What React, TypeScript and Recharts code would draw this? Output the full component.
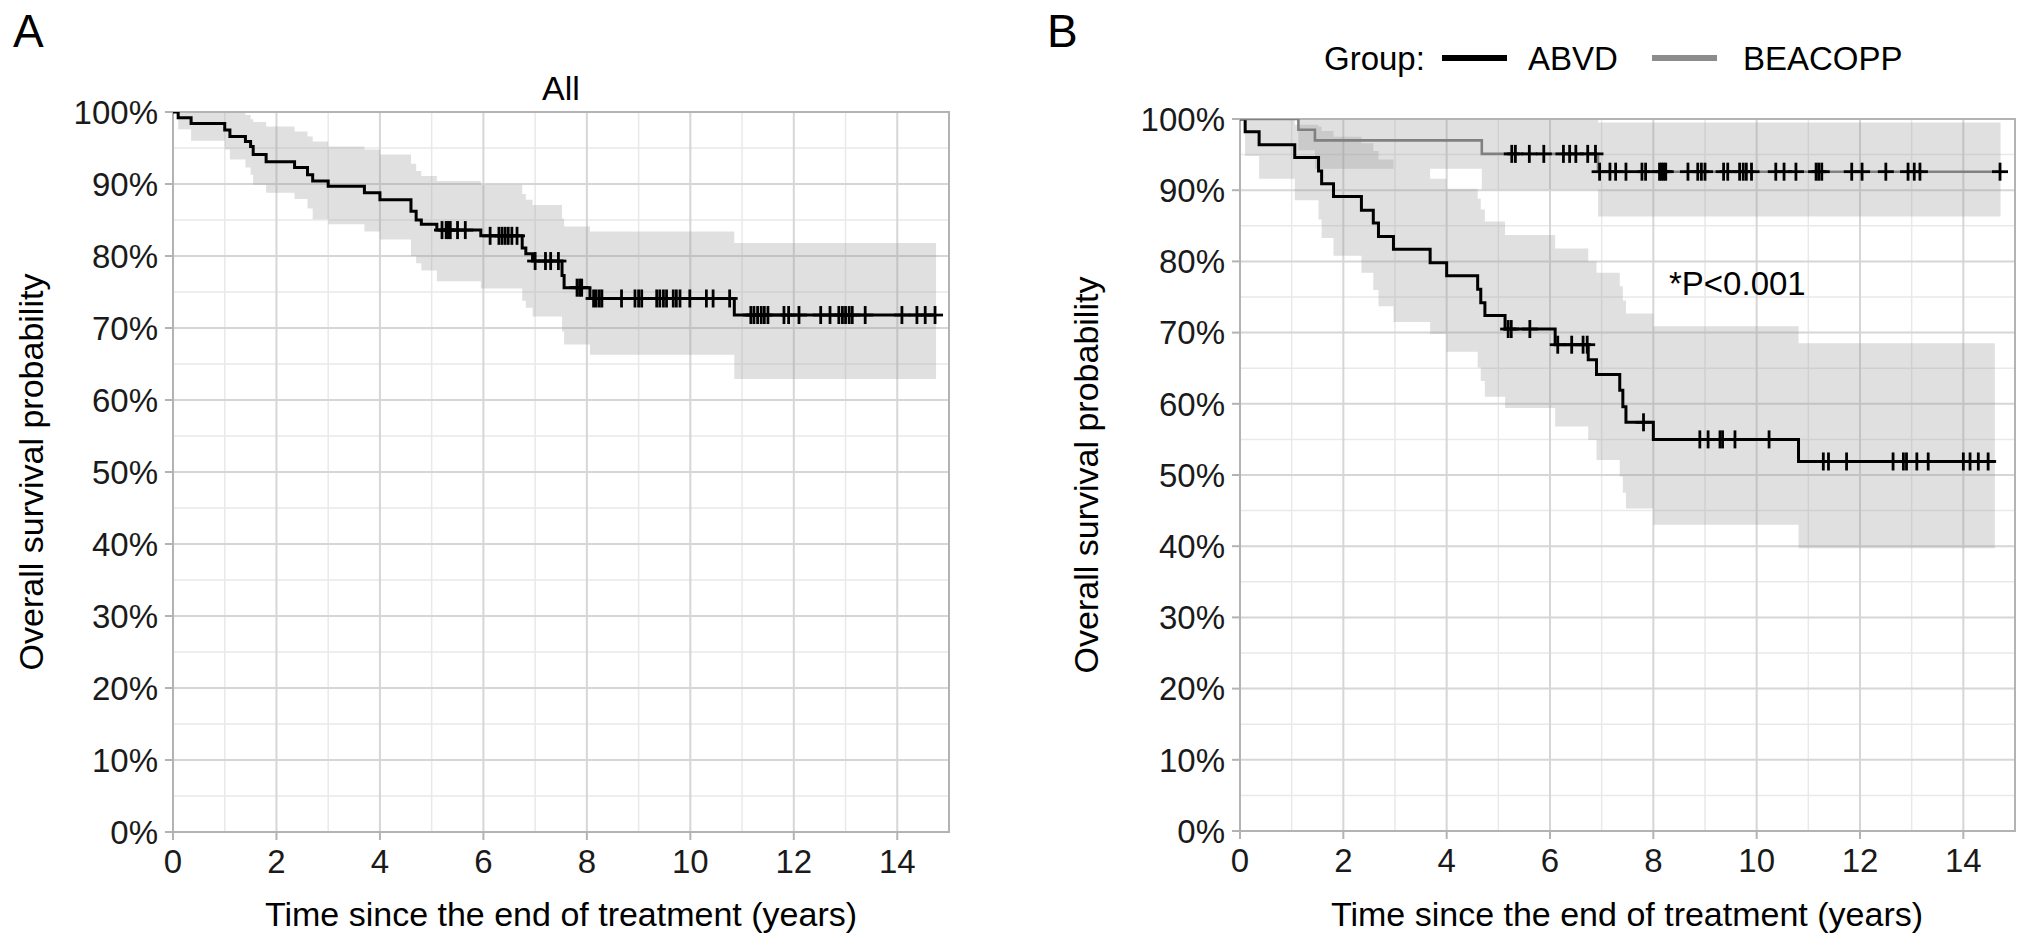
import React from 'react';
import {
  ComposedChart,
  XAxis,
  YAxis,
  CartesianGrid,
  Area,
  Line,
  Scatter,
  ReferenceArea,
} from 'recharts';

const FONT = '"Liberation Sans", Arial, Helvetica, sans-serif';

// axis ticks
const xMajor = [0, 2, 4, 6, 8, 10, 12, 14];
const xMinor = [1, 3, 5, 7, 9, 11, 13];
const yMajor = [0, 10, 20, 30, 40, 50, 60, 70, 80, 90, 100];
const yMinor = [5, 15, 25, 35, 45, 55, 65, 75, 85, 95];

// Panel A - all patients
const allTimes = [0, 0.1, 0.35, 1.0, 1.1, 1.4, 1.5, 1.55, 1.8, 2.35, 2.6, 2.7, 3.0, 3.7, 4.0, 4.6, 4.7, 4.8, 5.1, 5.95, 6.75, 6.82, 6.95, 7.52, 7.56, 8.06, 10.85, 14.75];
const allSurv = [100, 99.2, 98.4, 97.5, 96.6, 95.9, 95.2, 94.1, 93.1, 92.3, 91.3, 90.4, 89.7, 88.8, 87.8, 86.2, 85.0, 84.4, 83.6, 82.8, 81.1, 80.3, 79.3, 77.3, 75.6, 74.1, 71.8, 71.8];
const allLower = [100, 97.6, 96.0, 94.8, 93.4, 92.3, 91.3, 89.9, 88.8, 87.9, 86.6, 85.1, 84.4, 83.4, 82.3, 80.0, 79.0, 78.0, 76.5, 75.5, 73.8, 72.8, 71.6, 69.5, 67.7, 66.3, 62.9, 62.9];
const allUpper = [100, 100, 100, 100, 100, 99.6, 99.0, 98.6, 98.0, 97.3, 96.6, 95.9, 95.2, 94.8, 94.1, 92.8, 91.8, 91.1, 90.4, 89.9, 88.6, 87.8, 87.1, 85.2, 84.1, 83.4, 81.8, 81.8];
const allCensored = [5.2, 5.28, 5.32, 5.36, 5.5, 5.65, 6.13, 6.3, 6.36, 6.42, 6.48, 6.55, 6.65, 7.0, 7.2, 7.3, 7.45, 7.81, 7.86, 7.9, 8.13, 8.18, 8.24, 8.29, 8.67, 8.93, 9.0, 9.06, 9.35, 9.41, 9.48, 9.54, 9.67, 9.73, 9.8, 9.99, 10.31, 10.44, 10.76, 11.17, 11.23, 11.3, 11.37, 11.43, 11.5, 11.81, 11.9, 12.1, 12.52, 12.7, 12.87, 12.94, 13.0, 13.07, 13.13, 13.38, 14.09, 14.38, 14.54, 14.73];

// Panel B - ABVD
const abvdTimes = [0, 0.1, 0.37, 1.06, 1.52, 1.58, 1.81, 2.35, 2.58, 2.68, 2.97, 3.68, 4.0, 4.6, 4.66, 4.74, 5.13, 6.1, 6.74, 6.9, 7.35, 7.41, 7.47, 8.0, 10.81, 14.61];
const abvdSurv = [100, 98.2, 96.4, 94.6, 92.7, 90.9, 89.1, 87.2, 85.4, 83.5, 81.7, 79.8, 78.0, 76.1, 74.2, 72.4, 70.5, 68.3, 66.2, 64.1, 61.9, 59.6, 57.4, 55.0, 51.9, 51.9];
const abvdLower = [100, 94.8, 91.6, 88.6, 85.9, 83.3, 80.8, 78.4, 76.0, 73.7, 71.5, 69.8, 67.3, 65.1, 63.2, 61.0, 59.4, 56.8, 54.9, 52.1, 49.8, 47.5, 45.3, 43.0, 39.7, 39.7];
const abvdUpper = [100, 100, 100, 99.2, 98.9, 98.3, 97.5, 96.6, 95.5, 94.3, 93.0, 91.6, 90.2, 88.8, 87.3, 85.6, 83.7, 81.8, 80.0, 78.4, 76.5, 74.5, 72.7, 70.9, 68.5, 68.5];
const abvdCensored = [5.19, 5.25, 5.61, 6.15, 6.42, 6.64, 6.72, 7.81, 8.9, 9.06, 9.29, 9.34, 9.58, 10.24, 11.29, 11.39, 11.74, 12.64, 12.84, 12.9, 13.1, 13.32, 14.0, 14.13, 14.29, 14.48];

// Panel B - BEACOPP
const beaTimes = [0, 1.13, 1.45, 4.68, 6.93, 14.72];
const beaSurv = [100, 98.5, 97.0, 95.1, 92.6, 92.6];
const beaLower = [100, 95.6, 93.0, 90.1, 86.3, 86.3];
const beaUpper = [100, 100, 100, 100, 99.5, 99.5];
const beaCensored = [5.26, 5.33, 5.6, 5.88, 6.26, 6.38, 6.5, 6.73, 6.88, 6.96, 7.16, 7.27, 7.47, 7.78, 7.85, 8.12, 8.16, 8.2, 8.24, 8.67, 8.86, 8.93, 9.0, 9.36, 9.44, 9.67, 9.74, 9.8, 9.9, 10.37, 10.53, 10.76, 11.15, 11.2, 11.26, 11.84, 12.04, 12.5, 12.93, 13.05, 13.16, 14.71];

type Row = { t: number; s: number; band?: [number, number] };

const buildCurve = (times: number[], surv: number[], lo: number[], hi: number[]): Row[] =>
  times.map((t, i) => ({ t, s: surv[i], band: [lo[i], hi[i]] }));

// censor marks sit on the curve at the step value in force at that time
const buildCensored = (censored: number[], times: number[], surv: number[]): Row[] =>
  censored.map((t) => {
    let s = surv[0];
    for (let i = 0; i < times.length; i++) if (times[i] <= t) s = surv[i];
    return { t, s };
  });

const PlusMark = (props: any) => {
  const { cx, cy } = props;
  if (cx == null || cy == null) return null;
  return (
    <g>
      <line x1={cx} x2={cx} y1={cy - 9} y2={cy + 9} stroke="#000" strokeWidth={2.8} />
      <line x1={cx - 8} x2={cx + 8} y1={cy} y2={cy} stroke="#000" strokeWidth={2.8} />
    </g>
  );
};

interface Group {
  name: string;
  curve: Row[];
  marks: Row[];
  color: string;
  width: number;
}

interface PanelProps {
  width: number;
  height: number;
  margin: { top: number; right: number; bottom: number; left: number };
  groups: Group[];
}

const tickStyle = { fontSize: 33, fill: '#1a1a1a', fontFamily: FONT };

const SurvPanel = ({ width, height, margin, groups }: PanelProps) => (
  <ComposedChart width={width} height={height} margin={margin}>
    <CartesianGrid verticalValues={xMinor} horizontalValues={yMinor} stroke="#e9e9e9" strokeWidth={1.5} />
    <CartesianGrid verticalValues={xMajor} horizontalValues={yMajor} stroke="#d6d6d6" strokeWidth={2} />
    <XAxis
      type="number"
      dataKey="t"
      domain={[0, 15]}
      ticks={xMajor}
      allowDataOverflow
      height={60}
      axisLine={false}
      tickLine={{ stroke: '#b3b3b3', strokeWidth: 2 }}
      tickSize={8}
      tickMargin={10}
      tick={tickStyle}
    />
    <YAxis
      type="number"
      domain={[0, 100]}
      ticks={yMajor}
      allowDataOverflow
      width={80}
      axisLine={false}
      tickLine={{ stroke: '#b3b3b3', strokeWidth: 2 }}
      tickSize={8}
      tickMargin={7}
      tick={tickStyle}
      tickFormatter={(v: number) => `${v}%`}
    />
    {groups.map((g) => (
      <Area
        key={`band-${g.name}`}
        data={g.curve}
        dataKey="band"
        type="stepAfter"
        stroke="none"
        fill="#999999"
        fillOpacity={0.3}
        isAnimationActive={false}
        activeDot={false}
      />
    ))}
    {groups.map((g) => (
      <Line
        key={`line-${g.name}`}
        data={g.curve}
        dataKey="s"
        type="stepAfter"
        stroke={g.color}
        strokeWidth={g.width}
        dot={false}
        activeDot={false}
        isAnimationActive={false}
      />
    ))}
    {groups.map((g) => (
      <Scatter
        key={`cens-${g.name}`}
        data={g.marks}
        dataKey="s"
        shape={PlusMark}
        isAnimationActive={false}
      />
    ))}
    <ReferenceArea x1={0} x2={15} y1={0} y2={100} fill="#fff" fillOpacity={0} stroke="#b3b3b3" strokeWidth={2} />
  </ComposedChart>
);

const allGroup: Group[] = [
  {
    name: 'All',
    curve: buildCurve(allTimes, allSurv, allLower, allUpper),
    marks: buildCensored(allCensored, allTimes, allSurv),
    color: '#000',
    width: 3,
  },
];

const splitGroups: Group[] = [
  {
    name: 'ABVD',
    curve: buildCurve(abvdTimes, abvdSurv, abvdLower, abvdUpper),
    marks: buildCensored(abvdCensored, abvdTimes, abvdSurv),
    color: '#000',
    width: 3,
  },
  {
    name: 'BEACOPP',
    curve: buildCurve(beaTimes, beaSurv, beaLower, beaUpper),
    marks: buildCensored(beaCensored, beaTimes, beaSurv),
    color: '#808080',
    width: 2.6,
  },
];

const xTitle = 'Time since the end of treatment (years)';
const yTitle = 'Overall survival probability';

export default function App() {
  return (
    <div style={{ position: 'absolute', left: 0, top: 0, width: 2032, height: 943, background: '#fff', fontFamily: FONT }}>
      <div style={{ position: 'absolute', left: 0, top: 0 }}>
        <SurvPanel width={960} height={943} margin={{ top: 112, right: 11, bottom: 51, left: 93 }} groups={allGroup} />
      </div>
      <div style={{ position: 'absolute', left: 960, top: 0 }}>
        <SurvPanel width={1072} height={943} margin={{ top: 119, right: 17, bottom: 52, left: 200 }} groups={splitGroups} />
      </div>
      <svg width={2032} height={943} style={{ position: 'absolute', left: 0, top: 0, pointerEvents: 'none' }} fontFamily={FONT}>
        <text x={13} y={47} fontSize={46} fill="#000">A</text>
        <text x={1047} y={47} fontSize={46} fill="#000">B</text>
        <text x={561} y={100} fontSize={34} textAnchor="middle" fill="#000">All</text>
        <text x={561} y={926} fontSize={34} textAnchor="middle" fill="#000">{xTitle}</text>
        <text x={1627} y={926} fontSize={34} textAnchor="middle" fill="#000">{xTitle}</text>
        <text transform="translate(31,472) rotate(-90)" y={12} fontSize={34} textAnchor="middle" fill="#000">{yTitle}</text>
        <text transform="translate(1086,475) rotate(-90)" y={12} fontSize={34} textAnchor="middle" fill="#000">{yTitle}</text>
        <text x={1324} y={70} fontSize={33} fill="#000">Group:</text>
        <line x1={1442} x2={1507} y1={58} y2={58} stroke="#000" strokeWidth={6} />
        <text x={1528} y={70} fontSize={33} fill="#000">ABVD</text>
        <line x1={1652} x2={1717} y1={58} y2={58} stroke="#8c8c8c" strokeWidth={6} />
        <text x={1743} y={70} fontSize={33} fill="#000">BEACOPP</text>
        <text x={1669} y={295} fontSize={33} fill="#000">*P&lt;0.001</text>
      </svg>
    </div>
  );
}
